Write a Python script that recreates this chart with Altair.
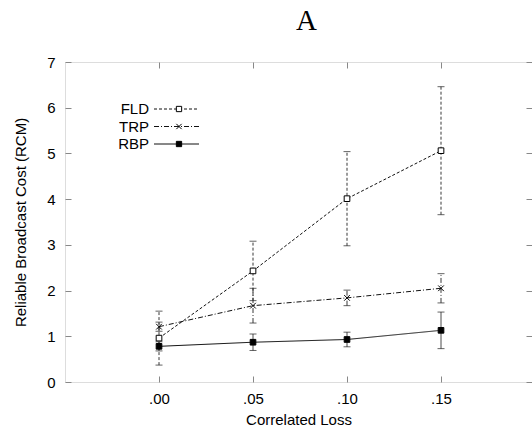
import altair as alt
import pandas as pd

# ---- data ----
series = ["FLD", "TRP", "RBP"]
loss = [0.00, 0.05, 0.10, 0.15]
fld_mean = [0.96, 2.43, 4.01, 5.06]
fld_err = [0.59, 0.65, 1.03, 1.40]
trp_mean = [1.21, 1.67, 1.84, 2.05]
trp_err = [0.10, 0.38, 0.17, 0.32]
rbp_mean = [0.78, 0.87, 0.93, 1.13]
rbp_err = [0.10, 0.18, 0.16, 0.40]
x_ticks = [0.00, 0.05, 0.10, 0.15]
x_tick_labels = [".00", ".05", ".10", ".15"]
y_ticks = [0, 1, 2, 3, 4, 5, 6, 7]

rows = []
for name, means, errs in zip(series, [fld_mean, trp_mean, rbp_mean], [fld_err, trp_err, rbp_err]):
    for x, m, e in zip(loss, means, errs):
        rows.append(dict(series=name, loss=x, cost=m, lo=m - e, hi=m + e))
df = pd.DataFrame(rows)
legend_df = pd.DataFrame({"series": series})

FONT = "Liberation Sans"
label_expr = "[" + ",".join("'%s'" % t for t in x_tick_labels) + "][indexof([" + \
    ",".join(str(int(round(v * 100))) for v in x_ticks) + "], round(datum.value*100))]"

xs = alt.Scale(domain=[-0.05, 0.1984], nice=False, zero=False)
ys = alt.Scale(domain=[0, 7], nice=False, zero=False)
dash_scale = alt.Scale(domain=series, range=[[3, 2], [5, 2, 1, 2], [1, 0]])
shape_scale = alt.Scale(domain=series, range=["square", "M-1,-1L1,1M-1,1L1,-1", "square"])
fill_scale = alt.Scale(domain=series, range=["white", "transparent", "black"])

x_axis = alt.Axis(values=x_ticks, orient="bottom", offset=-6, tickSize=6, domain=False, grid=False,
                  labelExpr=label_expr, labelFontSize=15, labelPadding=9, labelFont=FONT,
                  title="Correlated Loss", titleFontSize=15, titleFontWeight="normal", titleFont=FONT,
                  titlePadding=6)
y_axis = alt.Axis(values=y_ticks, orient="left", offset=-6, tickSize=6, domain=False, grid=False,
                  labelFontSize=15, labelPadding=10, labelFont=FONT,
                  title="Reliable Broadcast Cost (RCM)", titleFontSize=15, titleFontWeight="normal",
                  titleFont=FONT, titlePadding=18)

base = alt.Chart(df)
X = alt.X("loss:Q", scale=xs, axis=x_axis)
Y = alt.Y("cost:Q", scale=ys, axis=y_axis)
DASH = alt.StrokeDash("series:N", scale=dash_scale, legend=None)
SHAPE = alt.Shape("series:N", scale=shape_scale, legend=None)
FILL = alt.Fill("series:N", scale=fill_scale, legend=None)

lines = base.mark_line(strokeWidth=1, color="#111111").encode(x=X, y=Y, strokeDash=DASH)
bars = base.mark_rule(strokeWidth=0.9, color="#222222").encode(
    x=X, y=alt.Y("lo:Q", scale=ys), y2="hi:Q", strokeDash=DASH)
caps_lo = base.mark_tick(orient="horizontal", size=7, thickness=1, color="#222222").encode(
    x=X, y=alt.Y("lo:Q", scale=ys))
caps_hi = base.mark_tick(orient="horizontal", size=7, thickness=1, color="#222222").encode(
    x=X, y=alt.Y("hi:Q", scale=ys))
points = base.mark_point(filled=True, size=32, stroke="black", strokeWidth=1, opacity=1).encode(
    x=X, y=Y, shape=SHAPE, fill=FILL)

main = alt.layer(lines, bars, caps_lo, caps_hi, points)

# frame ticks on the top and right sides
frame = base.mark_point(opacity=0).encode(
    x=alt.X("loss:Q", scale=xs, axis=alt.Axis(orient="top", values=x_ticks, offset=-6, tickSize=6,
                                             labels=False, domain=False, grid=False, title=None)),
    y=alt.Y("cost:Q", scale=ys, axis=alt.Axis(orient="right", values=y_ticks, offset=-6, tickSize=6,
                                             labels=False, domain=False, grid=False, title=None)))

# key in the upper left: label, line sample, marker
LY = alt.Y("series:N", scale=alt.Scale(type="point", domain=series, range=[47, 82], padding=0),
           axis=None)
lbase = alt.Chart(legend_df)
key_text = lbase.mark_text(align="right", baseline="middle", fontSize=15, font=FONT,
                           color="black").encode(x=alt.value(84), y=LY, text="series:N")
key_line = lbase.mark_rule(strokeWidth=1, color="#111111").encode(
    x=alt.value(89), x2=alt.value(134), y=LY, strokeDash=DASH)
key_point = lbase.mark_point(filled=True, size=28, stroke="black", strokeWidth=1, opacity=1).encode(
    x=alt.value(114), y=LY, shape=SHAPE, fill=FILL)
key = alt.layer(key_text, key_line, key_point)

chart = alt.layer(main, frame, key).resolve_scale(x="independent", y="independent").properties(
    width=467, height=320,
    title=alt.TitleParams("A", font="Liberation Serif", fontSize=29, fontWeight="normal",
                          anchor="middle", dx=8, offset=19, color="black"),
    autosize=alt.AutoSizeParams(type="none"),
    padding={"left": 65, "top": 62, "right": 0, "bottom": 49},
).configure_view(stroke="black", strokeWidth=1).configure_axis(
    tickColor="black", labelColor="black", titleColor="black", tickWidth=1
).configure(background="white")

chart.save("out.html", embed_options={"renderer": "svg", "actions": False})
